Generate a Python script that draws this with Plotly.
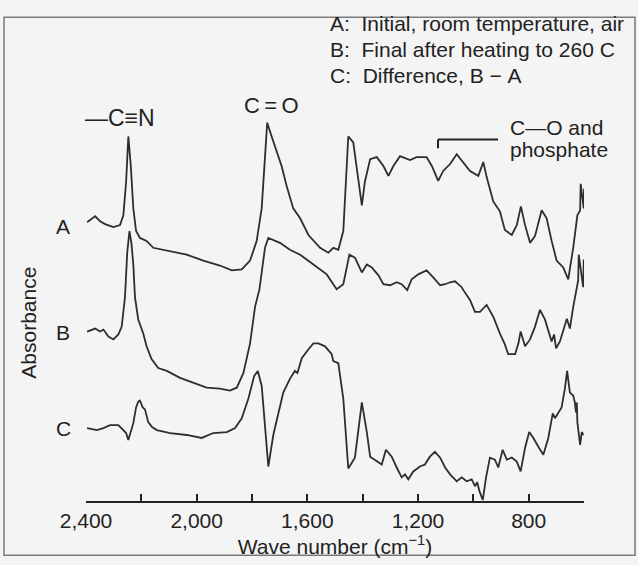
import plotly.graph_objects as go

# ---- Data: wavenumber (cm^-1) and absorbance (arbitrary units, stacked offsets) ----
wn_a = [2396, 2367, 2349, 2331, 2301, 2277, 2265, 2255, 2247, 2238, 2229, 2219, 2205, 2181, 2157, 2108,
        2036, 1976, 1916, 1873, 1837, 1807, 1783, 1765, 1753, 1745, 1729, 1711, 1693, 1675, 1651, 1626,
        1596, 1554, 1524, 1506, 1488, 1470, 1460, 1452, 1434, 1416, 1403, 1392, 1373, 1349, 1325, 1307,
        1289, 1265, 1229, 1205, 1169, 1150, 1127, 1109, 1084, 1060, 1036, 1012, 982, 964, 952, 928, 904,
        886, 861, 843, 828, 813, 795, 777, 753, 735, 717, 699, 675, 657, 639, 624, 614, 612, 601, 600]
abs_a = [2.83, 2.89, 2.84, 2.81, 2.78, 2.80, 2.90, 3.24, 3.70, 3.40, 2.97, 2.74, 2.67, 2.64, 2.57, 2.54,
         2.50, 2.44, 2.39, 2.34, 2.35, 2.44, 2.64, 2.97, 3.57, 3.84, 3.70, 3.54, 3.40, 3.20, 2.97, 2.87,
         2.70, 2.57, 2.52, 2.57, 2.55, 2.74, 3.24, 3.70, 3.64, 3.27, 3.00, 3.24, 3.47, 3.49, 3.40, 3.30,
         3.40, 3.50, 3.46, 3.49, 3.49, 3.40, 3.25, 3.35, 3.42, 3.52, 3.44, 3.35, 3.30, 3.44, 3.29, 3.04, 2.94,
         2.75, 2.70, 2.80, 2.99, 2.80, 2.62, 2.69, 2.95, 2.87, 2.64, 2.44, 2.37, 2.25, 2.57, 2.90, 2.95, 3.22, 2.97, 3.17]

wn_b = [2396, 2367, 2349, 2337, 2319, 2301, 2283, 2271, 2259, 2251, 2243, 2236, 2229, 2223, 2211, 2193,
        2181, 2163, 2139, 2108, 2060, 2012, 1964, 1916, 1880, 1855, 1831, 1807, 1789, 1773, 1764, 1753,
        1741, 1723, 1699, 1663, 1626, 1578, 1530, 1494, 1470, 1448, 1428, 1403, 1385, 1367, 1343, 1325,
        1301, 1277, 1259, 1239, 1223, 1199, 1169, 1145, 1120, 1102, 1084, 1066, 1042, 1036, 1012, 994,
        976, 952, 928, 904, 886, 874, 849, 837, 829, 813, 795, 777, 759, 741, 723, 717, 708, 701, 687,
        662, 651, 639, 621, 619, 603, 601]
abs_b = [1.72, 1.75, 1.72, 1.74, 1.67, 1.64, 1.69, 1.77, 2.07, 2.52, 2.74, 2.62, 2.40, 2.07, 1.84, 1.70,
         1.57, 1.44, 1.35, 1.32, 1.25, 1.20, 1.15, 1.14, 1.12, 1.15, 1.30, 1.60, 1.97, 2.15, 2.35, 2.57,
         2.67, 2.65, 2.62, 2.55, 2.50, 2.40, 2.30, 2.15, 2.20, 2.50, 2.47, 2.32, 2.40, 2.37, 2.29, 2.20,
         2.19, 2.22, 2.20, 2.14, 2.25, 2.30, 2.34, 2.27, 2.19, 2.20, 2.22, 2.23, 2.17, 2.14, 2.04, 1.92,
         1.92, 1.99, 1.87, 1.70, 1.59, 1.49, 1.49, 1.60, 1.72, 1.57, 1.64, 1.77, 1.94, 1.84, 1.67, 1.62, 1.69, 1.55, 1.62,
         1.85, 1.75, 1.97, 2.24, 2.50, 2.17, 2.45]

wn_c = [2396, 2361, 2337, 2313, 2283, 2271, 2265, 2255, 2247, 2238, 2229, 2219, 2211, 2205, 2195, 2187,
        2175, 2161, 2144, 2096, 2036, 1982, 1940, 1891, 1861, 1837, 1813, 1792, 1779, 1765, 1753, 1741,
        1723, 1705, 1687, 1663, 1645, 1636, 1620, 1596, 1578, 1560, 1536, 1512, 1506, 1488, 1470, 1452,
        1428, 1403, 1385, 1373, 1349, 1331, 1316, 1295, 1277, 1259, 1247, 1235, 1217, 1193, 1175, 1157,
        1139, 1120, 1102, 1084, 1060, 1042, 1024, 1006, 994, 986, 978, 966, 954, 940, 922, 910, 894, 879,
        861, 843, 829, 813, 798, 783, 765, 747, 729, 713, 705, 693, 681, 669, 661, 651, 639, 633, 629, 626,
        624, 614, 608, 602]
abs_c = [0.74, 0.72, 0.74, 0.77, 0.77, 0.74, 0.72, 0.69, 0.62, 0.70, 0.79, 0.95, 1.01, 1.02, 0.95, 0.93,
         0.80, 0.75, 0.72, 0.69, 0.67, 0.64, 0.69, 0.70, 0.74, 0.84, 1.04, 1.27, 1.32, 1.17, 0.74, 0.35,
         0.67, 0.87, 1.10, 1.24, 1.32, 1.30, 1.45, 1.54, 1.60, 1.60, 1.57, 1.49, 1.42, 1.40, 1.04, 0.33,
         0.44, 1.00, 0.70, 0.45, 0.40, 0.37, 0.52, 0.45, 0.34, 0.24, 0.27, 0.22, 0.30, 0.35, 0.37, 0.45,
         0.50, 0.44, 0.34, 0.27, 0.20, 0.24, 0.20, 0.22, 0.15, 0.19, 0.10, 0.01, 0.24, 0.44, 0.42, 0.34, 0.52, 0.42,
         0.44, 0.40, 0.30, 0.54, 0.70, 0.64, 0.55, 0.47, 0.64, 0.89, 0.84, 0.90, 0.95, 1.14, 1.32, 1.10, 1.07, 1.00,
         0.90, 1.00, 0.80, 0.57, 0.70, 0.67]

tick_vals = [2400, 2000, 1600, 1200, 800]
tick_text = ["2,400", "2,000", "1,600", "1,200", "800"]
minor_step = 200

trace_names = ["A", "B", "C"]
legend_lines = ["A:\u00a0\u00a0Initial, room temperature, air",
                "B:\u00a0\u00a0Final after heating to 260 C",
                "C:\u00a0\u00a0Difference, B\u00a0\u2212\u00a0A"]

# ---- Layout geometry (pixels) ----
WIDTH, HEIGHT = 638, 565
L, T, PW, PH = 86, 100, 498, 407
FONT = "Liberation Sans, Arial, Helvetica, sans-serif"
INK = "#222222"
FS = 21


def fx(x):
    return (x - L) / PW


def fy(y):
    return (T + PH - y) / PH


fig = go.Figure()
for wn, ab, nm in zip([wn_a, wn_b, wn_c], [abs_a, abs_b, abs_c], trace_names):
    fig.add_trace(go.Scatter(x=wn, y=ab, mode="lines", name=nm,
                             line=dict(color="#2e2e2e", width=1.8), hoverinfo="skip"))

ann = []
for nm, yy in zip(trace_names, [228, 336, 433]):
    ann.append(dict(text=nm, x=fx(63), y=fy(yy), xanchor="center", yanchor="middle"))
for line, yy in zip(legend_lines, [22, 49, 75]):
    ann.append(dict(text=line, x=fx(328), y=fy(yy), xanchor="left", yanchor="middle"))
ann.append(dict(text="\u2014C\u2261N", x=fx(120), y=fy(118), xanchor="center", yanchor="middle",
                font=dict(family=FONT, size=FS + 2, color=INK)))
ann.append(dict(text="C\u2009=\u2009O", x=fx(271), y=fy(106), xanchor="center", yanchor="middle",
                font=dict(family=FONT, size=FS + 1, color=INK)))
ann.append(dict(text="C\u2014O and", x=fx(508), y=fy(128), xanchor="left", yanchor="middle"))
ann.append(dict(text="phosphate", x=fx(508), y=fy(150), xanchor="left", yanchor="middle"))
ann.append(dict(text="Absorbance", x=fx(29), y=fy(326), xanchor="center", yanchor="middle", textangle=-90))

for a in ann:
    a.update(xref="paper", yref="paper", showarrow=False)
    if "font" not in a:
        a["font"] = dict(family=FONT, size=FS, color=INK)

shapes = [
    dict(type="rect", xref="paper", yref="paper", x0=fx(4), x1=fx(635), y0=fy(562), y1=fy(16),
         line=dict(color="#7a7a7a", width=1.5), layer="below"),
    dict(type="line", xref="paper", yref="paper", x0=fx(438), x1=fx(498), y0=fy(140), y1=fy(140),
         line=dict(color=INK, width=2)),
    dict(type="line", xref="paper", yref="paper", x0=fx(438), x1=fx(438), y0=fy(140), y1=fy(149),
         line=dict(color=INK, width=2)),
]

fig.update_layout(
    width=WIDTH, height=HEIGHT,
    margin=dict(l=L, r=WIDTH - L - PW, t=T, b=HEIGHT - T - PH, pad=0),
    paper_bgcolor="#f4f4f4", plot_bgcolor="#f4f4f4",
    showlegend=False,
    annotations=ann, shapes=shapes,
    font=dict(family=FONT, size=FS, color=INK),
    xaxis=dict(range=[2400, 600], autorange=False, showgrid=False, zeroline=False,
               showline=True, linecolor=INK, linewidth=2,
               ticks="inside", ticklen=7, tickwidth=2, tickcolor=INK,
               tickmode="array", tickvals=tick_vals, ticktext=tick_text,
               minor=dict(tickmode="linear", tick0=600, dtick=minor_step, ticks="inside",
                          ticklen=7, tickwidth=2, tickcolor=INK, showgrid=False),
               tickfont=dict(family=FONT, size=FS, color=INK),
               title=dict(text="Wave number (cm<sup>\u22121</sup>)", standoff=6,
                          font=dict(family=FONT, size=FS, color=INK))),
    yaxis=dict(range=[0, 4.07], autorange=False, visible=False),
)

fig.write_html("out.html", config={"displayModeBar": False, "staticPlot": True},
               post_script="document.body.style.margin='0px';")
